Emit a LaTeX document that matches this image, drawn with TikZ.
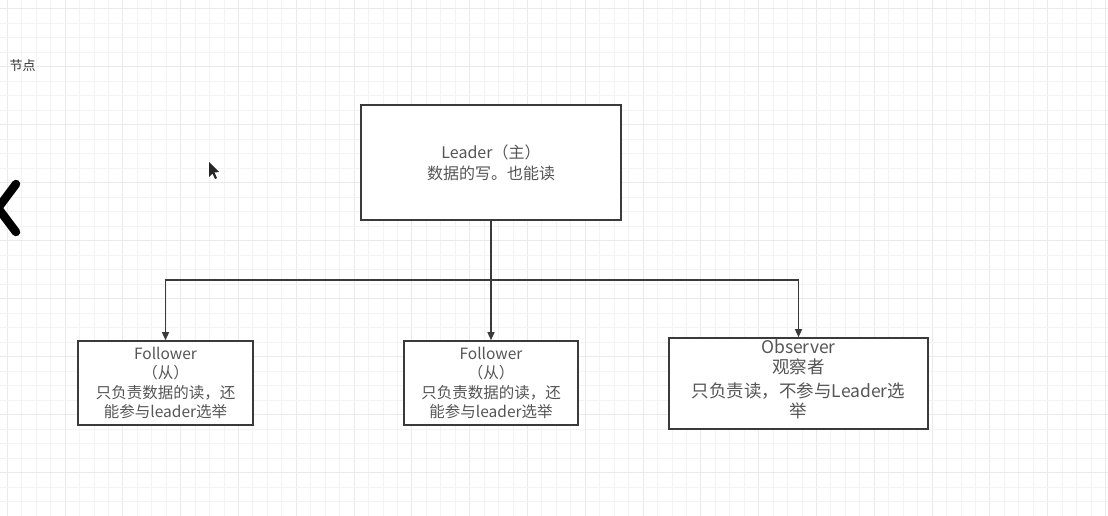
\documentclass[tikz,border=0pt]{standalone}
\usepackage{fontspec}
\setmainfont{Noto Sans CJK SC}
\definecolor{gridln}{HTML}{F3F3F3}
\definecolor{gridmaj}{HTML}{EAEAEA}
\definecolor{boxline}{HTML}{3A3A3A}
\definecolor{txtgray}{HTML}{555555}
\usetikzlibrary{arrows.meta, positioning}
\tikzset{
  rolebox/.style={draw=boxline, line width=1.6pt, fill=white, align=center,
                  text=txtgray, inner sep=0pt},
  link/.style={draw=boxline, line width=1.3pt,
               -{Triangle[length=8pt, width=7pt]}},
}

\begin{document}
\begin{tikzpicture}[x=1pt, y=-1pt]
    \useasboundingbox (0,0) rectangle (1108,516);
    \fill[white] (0,0) rectangle (1108,516);
    \foreach \i in {0,...,76}{
      \pgfmathtruncatemacro{\m}{mod(\i,4)}
      \ifnum\m=0 \draw[gridmaj, line width=0.9pt] ({7.2+14.45*\i},0) -- ++(0,516);
      \else \draw[gridln, line width=0.8pt] ({7.2+14.45*\i},0) -- ++(0,516); \fi
    }
    \foreach \j in {0,...,35}{
      \pgfmathtruncatemacro{\m}{mod(\j,4)}
      \ifnum\m=0 \draw[gridmaj, line width=0.9pt] (0,{8.5+14.5*\j}) -- ++(1108,0);
      \else \draw[gridln, line width=0.8pt] (0,{8.5+14.5*\j}) -- ++(1108,0); \fi
    }

    \node[text=black!80, font=\fontsize{13}{15}\selectfont, anchor=west] (title) at (6,66) {节点};
    \draw[line width=8.5pt, line cap=round, line join=round] (16,184) -- (-2,208) -- (16,232);
    \fill[black!85] (209,162) -- (209,177) -- (212.5,173.5) -- (215,179) -- (217,178)
                    -- (214.5,172.5) -- (219,172) -- cycle;

    \node[rolebox, minimum width=260pt, minimum height=115pt,
          font=\fontsize{16}{21}\selectfont] (leader) at (491,162.5)
          {Leader（主）\\数据的写。也能读};
    \node[rolebox, minimum width=175pt, minimum height=84pt,
          font=\fontsize{15.5}{19.3}\selectfont] (fol1) at (165.5,383)
          {Follower\\（从）\\只负责数据的读，还\\能参与leader选举};
    \node[rolebox, minimum width=174pt, minimum height=84pt,
          font=\fontsize{15.5}{19.3}\selectfont] (fol2) at (491,383)
          {Follower\\（从）\\只负责数据的读，还\\能参与leader选举};
    \node[rolebox, minimum width=259pt, minimum height=91pt, text depth=9pt,
          font=\fontsize{17.5}{20}\selectfont] (obs) at (798.5,383.5)
          {Observer\\观察者\\[4pt]只负责读，不参与Leader选\\举};

    \coordinate (split) at (491,280);
    \draw[boxline, line width=1.3pt] (leader.south) -- (split);
    \foreach \t in {fol1,fol2,obs}
      \draw[link] (split) -| (\t.north);
\end{tikzpicture}
\end{document}
